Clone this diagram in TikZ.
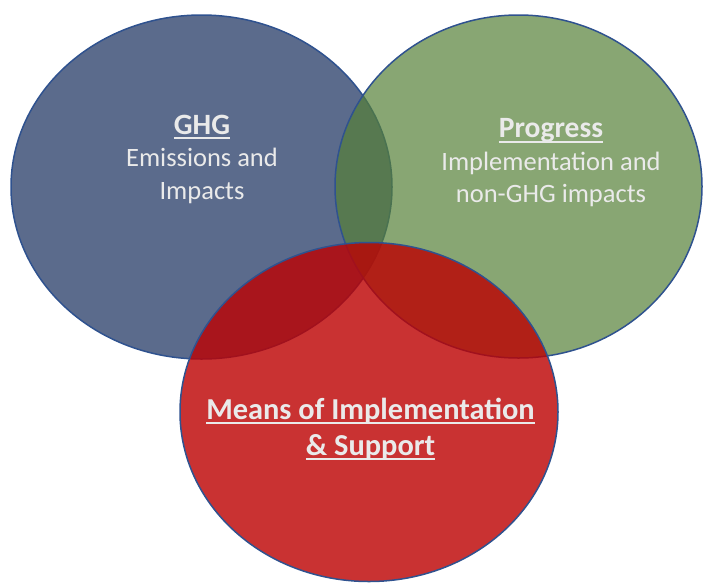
\documentclass[tikz,border=0pt]{standalone}
\usepackage{fontspec}
\setmainfont{Carlito}
\usetikzlibrary{shapes.geometric}
\definecolor{edgeblue}{RGB}{47,82,143}
\definecolor{ghgfill}{RGB}{91,107,140}
\definecolor{progfill}{RGB}{86,128,55}
\definecolor{meansfill}{RGB}{188,2,3}
\definecolor{labeltext}{RGB}{234,234,234}
\newcommand{\ulx}[1]{\setbox0=\hbox{#1}\rlap{\rule[-0.16em]{\wd0}{0.06em}}\box0}
\tikzset{
  venn/.style={ellipse, draw=edgeblue, line width=1.5pt, inner sep=0pt},
  lbl/.style={text=labeltext, align=center, inner sep=0pt,
    font=\fontsize{26.5}{32.5}\selectfont},
  biglbl/.style={text=labeltext, align=center, inner sep=0pt,
    font=\fontsize{30.4}{36}\selectfont\bfseries}
}
\begin{document}
\begin{tikzpicture}[x=1pt,y=-1pt]
\useasboundingbox (0,0) rectangle (703,582);
\node[venn, fill=ghgfill, minimum width=381pt, minimum height=344pt] (ghg) at (201.5,187) {};
\node[venn, fill=progfill, fill opacity=0.7, minimum width=367pt, minimum height=343pt] (prog) at (518.5,186.5) {};
\node[venn, fill=meansfill, fill opacity=0.81, minimum width=378pt, minimum height=339pt] (means) at (369,412) {};
\node[lbl] (ghgtext) at (202,159) {{\fontsize{29.5}{36}\selectfont\bfseries\ulx{GHG}}\\Emissions and\\Impacts};
\node[lbl] (progtext) at (551,163) {{\fontsize{29.5}{36}\selectfont\bfseries\ulx{Progress}}\\Implementation and\\non-GHG impacts};
\node[biglbl] (meanstext) at (370.5,429) {\ulx{Means of Implementation}\\\ulx{\&\ Support}};
\end{tikzpicture}
\end{document}
